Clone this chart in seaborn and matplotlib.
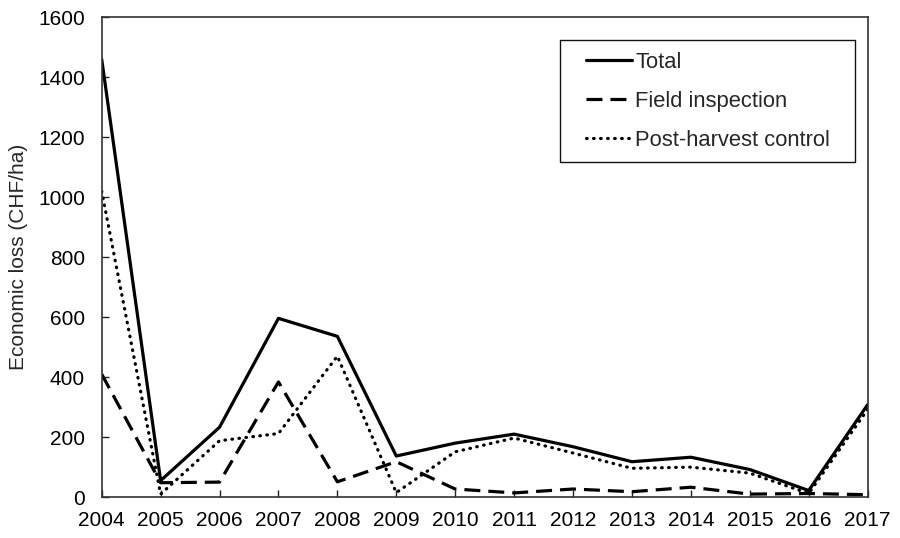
import pandas as pd
import seaborn as sns
import matplotlib.pyplot as plt
from matplotlib.lines import Line2D
from matplotlib.patches import Rectangle

# values (CHF/ha)
years = list(range(2004, 2018))
total = [1460, 55, 233, 596, 536, 137, 180, 210, 168, 118, 133, 92, 22, 308]
field_inspection = [410, 48, 50, 384, 51, 118, 27, 14, 27, 18, 33, 10, 12, 8]
post_harvest = [1020, 10, 188, 212, 470, 15, 151, 197, 147, 96, 100, 80, 12, 292]

series_names = ["Total", "Field inspection", "Post-harvest control"]

df = pd.DataFrame({
    "Year": years * 3,
    "Loss": total + field_inspection + post_harvest,
    "Series": [series_names[0]] * 14 + [series_names[1]] * 14 + [series_names[2]] * 14,
})

sns.set_theme(style="white")
plt.rcParams["font.family"] = ["Liberation Sans", "DejaVu Sans"]

fig, ax = plt.subplots(figsize=(9, 5.38), dpi=100)
fig.subplots_adjust(left=0.113, right=0.964, top=0.968, bottom=0.076)

lw = 2.3
sns.lineplot(data=df, x="Year", y="Loss", hue="Series", style="Series",
             palette=["black"] * 3,
             dashes={"Total": "", "Field inspection": (5, 2.5),
                     "Post-harvest control": (0.2, 2)},
             linewidth=lw, legend=False, ax=ax)
ax.get_lines()[2].set_dash_capstyle("round")

ax.set_xlim(2004, 2017)
ax.set_ylim(0, 1600)
ax.set_xticks(years)
ax.set_yticks(range(0, 1601, 200))
ax.set_xlabel("")
ax.set_ylabel("Economic loss (CHF/ha)", fontsize=15, labelpad=7)
ax.tick_params(axis="both", direction="in", length=5, width=1, colors="#222222",
               labelsize=15, labelcolor="black", bottom=True, left=True)
ax.tick_params(axis="y", pad=12)
ax.tick_params(axis="x", pad=10)
for sp in ax.spines.values():
    sp.set_color("#333333")
    sp.set_linewidth(1.2)

# legend without its own frame; box drawn separately (wider side padding)
handles = [
    Line2D([], [], color="black", lw=lw, linestyle="-"),
    Line2D([], [], color="black", lw=lw, linestyle=(0, (5, 2.5))),
    Line2D([], [], color="black", lw=lw, linestyle=(0, (0.2, 2)), dash_capstyle="round"),
]
ax.legend(handles, series_names, loc="upper left",
          bbox_to_anchor=(0.632, 0.928), fontsize=15.8, frameon=False,
          handlelength=2.1, handletextpad=0.15, borderpad=0,
          labelspacing=0.82, borderaxespad=0)
ax.add_patch(Rectangle((0.598, 0.698), 0.385, 0.254, transform=ax.transAxes,
                       fill=False, edgecolor="#111111", linewidth=1.0, zorder=5))

fig.savefig("out.png", dpi=100)
